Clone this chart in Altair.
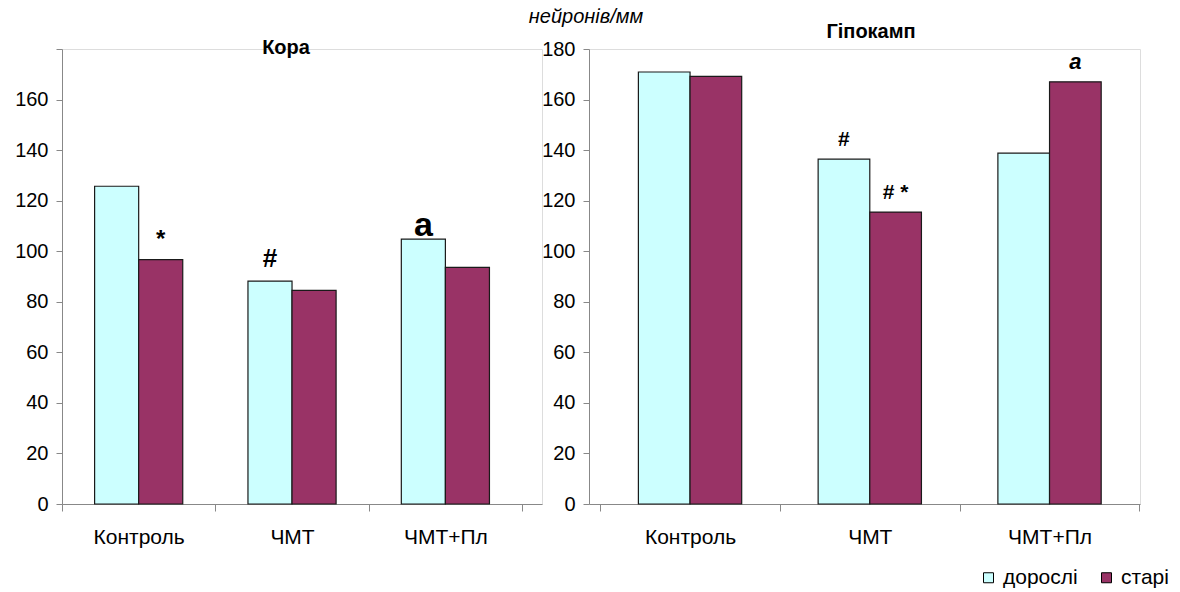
import altair as alt
import pandas as pd

# Neuron density (neurons per mm) in cortex and hippocampus
categories = ["Контроль", "ЧМТ", "ЧМТ+Пл"]
groups = ["дорослі", "старі"]

cortex_adult = [125.7, 88.2, 104.8]
cortex_old = [96.7, 84.5, 93.6]

hippo_adult = [170.9, 136.4, 138.8]
hippo_old = [169.2, 115.5, 167.0]

# significance marks: (category, group, mark)
cortex_marks = [("Контроль", "старі", "*"), ("ЧМТ", "дорослі", "#"), ("ЧМТ+Пл", "дорослі", "a")]
hippo_marks = [("ЧМТ", "дорослі", "#"), ("ЧМТ", "старі", "#  *"), ("ЧМТ+Пл", "старі", "a")]

CYAN = "#CCFFFF"
MAROON = "#993366"
FONT = "Liberation Sans"
AXIS_GREY = "#808080"


def bars_frame(adult, old):
    rows = []
    for c, a, o in zip(categories, adult, old):
        rows.append({"cat": c, "group": groups[0], "value": a})
        rows.append({"cat": c, "group": groups[1], "value": o})
    return pd.DataFrame(rows)


def marks_frame(bars, marks):
    m = pd.DataFrame(marks, columns=["cat", "group", "mark"])
    return m.merge(bars, on=["cat", "group"])


def panel(adult, old, marks, width, pad_outer, align, title, title_x, title_y,
          mark_styles, y_hide_top):
    bars = bars_frame(adult, old)
    ann = marks_frame(bars, marks)

    x = alt.X("cat:N", sort=categories, title=None,
              scale=alt.Scale(paddingInner=0, paddingOuter=pad_outer, align=align),
              axis=alt.Axis(labelAngle=0, tickBand="extent", tickSize=7,
                            labelPadding=15, labelFontSize=21))
    xo = alt.XOffset("group:N", sort=groups,
                     scale=alt.Scale(paddingInner=0, paddingOuter=0.74))
    label_expr = "datum.value == 180 ? '' : datum.label" if y_hide_top else "datum.label"
    y_axis = alt.Axis(values=list(range(0, 181, 20)), tickSize=6, labelPadding=8,
                      labelFontSize=20, grid=False, labelExpr=label_expr)
    y = alt.Y("value:Q", title=None, scale=alt.Scale(domain=[0, 180], nice=False),
              axis=y_axis)
    color = alt.Color("group:N", sort=groups, title=None,
                      scale=alt.Scale(domain=groups, range=[CYAN, MAROON]),
                      legend=alt.Legend(orient="none", direction="horizontal",
                                        legendX=916, legendY=518,
                                        symbolType="square", symbolSize=100,
                                        symbolStrokeColor="#000000",
                                        symbolStrokeWidth=1, symbolOpacity=1,
                                        labelFontSize=21, labelFont=FONT,
                                        labelOffset=4, columnPadding=18))

    base = alt.Chart(bars).mark_bar(stroke="#1a1a1a", strokeWidth=1.2).encode(
        x=x, xOffset=xo, y=y, color=color)

    layers = [base]
    for mark, size, italic, dy in mark_styles:
        t = alt.Chart(ann).transform_filter(alt.datum.mark == mark).mark_text(
            font=FONT, fontSize=size, fontWeight="bold",
            fontStyle="italic" if italic else "normal",
            baseline="middle", dy=dy, color="#000000").encode(
            x=alt.X("cat:N", sort=categories), xOffset=alt.XOffset("group:N", sort=groups),
            y="value:Q", text="mark:N")
        layers.append(t)

    ttl = alt.Chart(pd.DataFrame({"t": [title]})).mark_text(
        font=FONT, fontSize=20, fontWeight="bold", baseline="middle",
        align="center", color="#000000").encode(
        x=alt.value(title_x), y=alt.value(title_y), text="t:N")
    layers.append(ttl)

    return alt.layer(*layers).properties(width=width, height=455)


left = panel(cortex_adult, cortex_old, cortex_marks, 480, 0.065, 0,
             "Кора", 224, -1,
             [("*", 24, False, -20), ("#", 26, False, -22), ("a", 34, False, -13)],
             True)

right = panel(hippo_adult, hippo_old, hippo_marks, 551, 0.0327, 0.95,
              "Гіпокамп", 282, -17,
              [("#", 21, False, -19), ("#  *", 21, False, -19), ("a", 22, True, -20)],
              False)

unit = alt.Chart(pd.DataFrame({"t": ["нейронів/мм"]})).mark_text(
    font=FONT, fontSize=20, fontStyle="italic", baseline="middle", align="center",
    color="#000000").encode(x=alt.value(-3), y=alt.value(-32), text="t:N")

right = alt.layer(right, unit)

chart = alt.hconcat(left, right, spacing=47, bounds="flush").resolve_scale(
    color="shared", xOffset="independent", x="independent").properties(
    padding={"left": 14, "top": 6, "right": 0, "bottom": 0}).configure_view(
    stroke=None).configure_axis(
    labelFont=FONT, labelColor="#000000", domainColor=AXIS_GREY, tickColor=AXIS_GREY,
    domainWidth=1.3, tickWidth=1.3).configure(background="#ffffff")

chart.save("out.html", embed_options={"renderer": "svg", "actions": False})
